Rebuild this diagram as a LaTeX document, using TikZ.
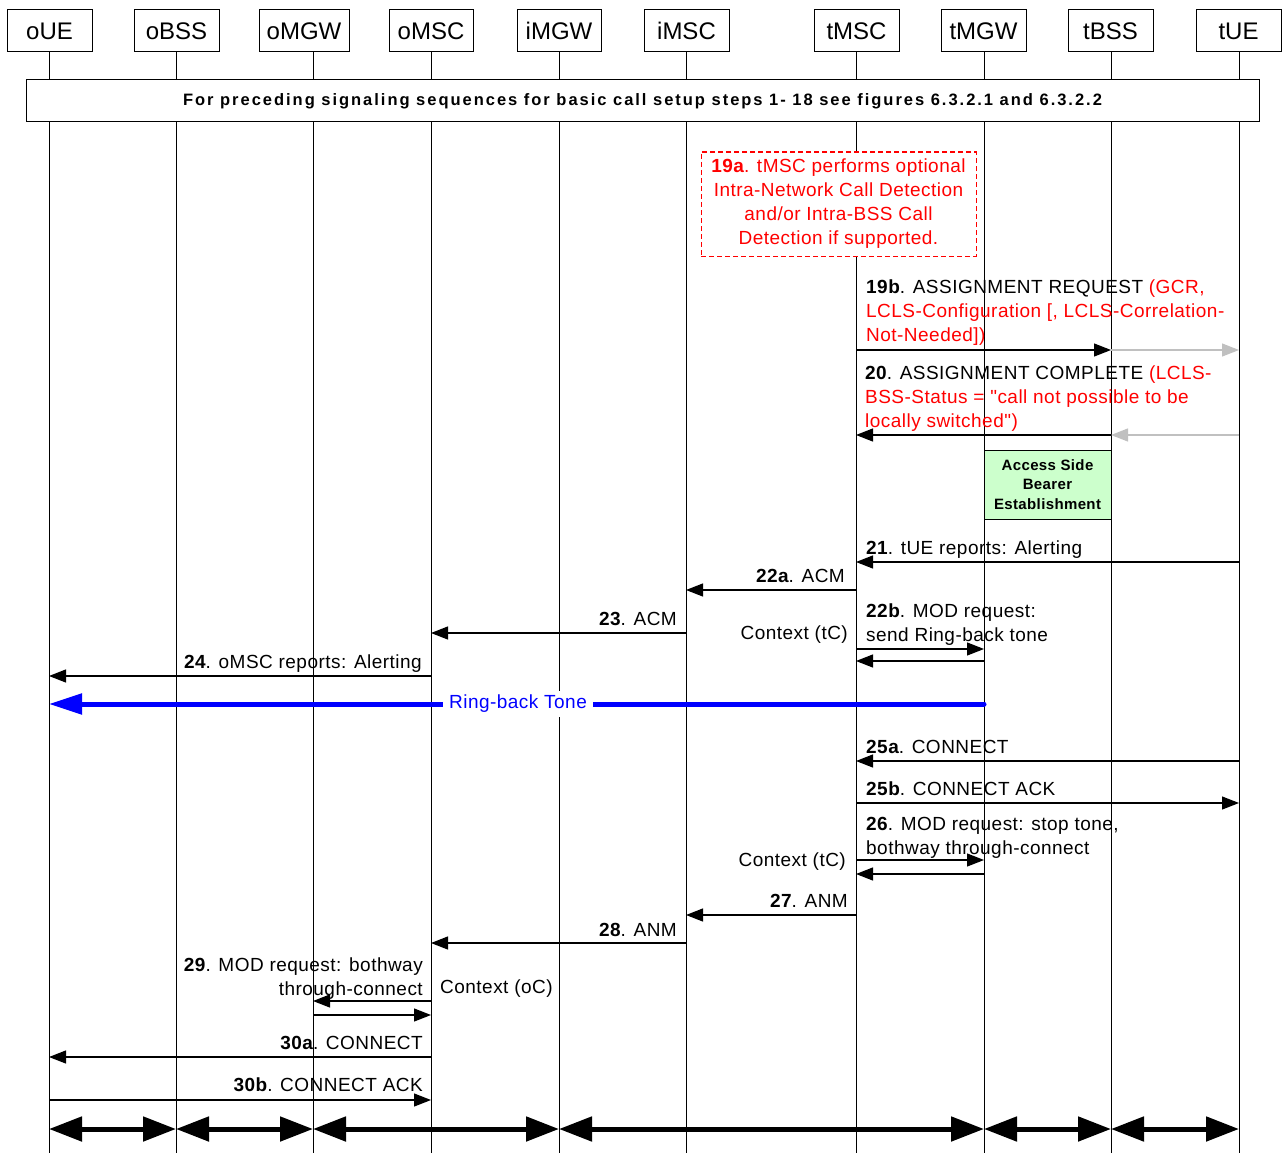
\documentclass[tikz,border=0pt]{standalone}
\usepackage{fontspec}
\setmainfont{Liberation Sans}[Ligatures=TeXOff]
\newfontfamily\lsfont{Liberation Sans}[LetterSpace=2.5,Ligatures=TeXOff]
\newfontfamily\banfont{Liberation Sans}[LetterSpace=12,Ligatures=TeXOff]
\usetikzlibrary{arrows.meta}
\definecolor{lgreen}{HTML}{CCFFCC}
\definecolor{rred}{HTML}{FF0000}
\definecolor{rblue}{HTML}{0000FF}
\definecolor{lgray}{HTML}{C0C0C0}
\begin{document}
\begin{tikzpicture}[x=1pt,y=-1pt,
  head/.style={draw, line width=1pt, minimum height=42pt, inner sep=0pt, font=\fontsize{24}{28}\selectfont},
  life/.style={line width=1pt},
  msg/.style={line width=1.2pt, -{Triangle[length=17pt,width=13pt]}},
  gmsg/.style={msg, draw=lgray, -{Triangle[length=17pt,width=13pt,fill=lgray]}},
  lbl/.style={font=\lsfont\fontsize{19}{24}\selectfont, inner sep=0pt},
  lw/.style={lbl, anchor=base west},
  le/.style={lbl, anchor=base east},
  rl/.style={lbl, anchor=base west, text=rred},
  bigarr/.style={line width=5pt, {Triangle[length=33pt,width=24pt]}-{Triangle[length=33pt,width=24pt]}},
]
\useasboundingbox (0,0) rectangle (1282,1153);
% lifelines
\foreach \n/\x in {oUE/49, oBSS/176, oMGW/313, oMSC/431, iMGW/559, iMSC/686, tMSC/856, tMGW/984, tBSS/1111, tUE/1239} {
  \coordinate (\n) at (\x,52);
  \coordinate (\n-end) at (\x,1153);
  \draw[life] (\n) -- (\n-end);
}
% headers
\node[head, minimum width=85pt] (h-oUE) at (49.5,31) {oUE};
\node[head, minimum width=85pt] (h-oBSS) at (176.5,31) {oBSS};
\node[head, minimum width=90pt] (h-oMGW) at (304,31) {oMGW};
\node[head, minimum width=84pt] (h-oMSC) at (431,31) {oMSC};
\node[head, minimum width=84pt] (h-iMGW) at (559,31) {iMGW};
\node[head, minimum width=85pt] (h-iMSC) at (686.5,31) {iMSC};
\node[head, minimum width=85pt] (h-tMSC) at (856.5,31) {tMSC};
\node[head, minimum width=85pt] (h-tMGW) at (983.5,31) {tMGW};
\node[head, minimum width=85pt] (h-tBSS) at (1110.5,31) {tBSS};
\node[head, minimum width=85pt] (h-tUE) at (1238.5,31) {tUE};
% banner
\node[draw, fill=white, line width=1pt, minimum width=1233pt, minimum height=42pt, inner sep=0pt,
  font=\banfont\fontsize{16.5}{20}\selectfont\bfseries] (banner) at (642.5,101)
  {For preceding signaling sequences for basic call setup steps 1- 18 see figures 6.3.2.1 and 6.3.2.2};
% 19a
\node[draw=rred, dash pattern=on 5pt off 3pt, fill=white, line width=1pt, minimum width=275pt, minimum height=104pt,
  inner sep=0pt, align=center, text=rred, font=\lsfont\fontsize{19}{24}\selectfont] (n19a) at (838.5,204)
  {\textbf{19a}. tMSC performs optional\\Intra-Network Call Detection\\and/or Intra-BSS Call\\Detection if supported.};
% 19b
\node[lw] (l19b1) at (866,293) {\textbf{19b}. ASSIGNMENT REQUEST \textcolor{rred}{(GCR,}};
\node[rl] (l19b2) at (866,317) {LCLS-Configuration [, LCLS-Correlation-};
\node[rl] (l19b3) at (866,341) {Not-Needed])};
\draw[msg] (tMSC |- 0,350) -- (tBSS |- 0,350);
\draw[gmsg] (tBSS |- 0,350) -- (tUE |- 0,350);
% 20
\node[lw] (l20a) at (865,379) {\textbf{20}. ASSIGNMENT COMPLETE \textcolor{rred}{(LCLS-}};
\node[rl] (l20b) at (865,403) {BSS-Status = "call not possible to be};
\node[rl] (l20c) at (865,427) {locally switched")};
\draw[msg] (tBSS |- 0,435) -- (tMSC |- 0,435);
\draw[gmsg] (tUE |- 0,435) -- (tBSS |- 0,435);
% access side bearer
\node[draw, fill=lgreen, line width=1pt, minimum width=127pt, minimum height=69pt, inner sep=0pt, align=center,
  font=\lsfont\fontsize{15}{19.5}\selectfont\bfseries] (asb) at (1047.5,484.5) {Access Side\\Bearer\\Establishment};
% 21
\node[lw] (l21) at (866,554) {\textbf{21}. tUE reports: Alerting};
\draw[msg] (tUE |- 0,562) -- (tMSC |- 0,562);
% 22a
\node[le] (l22a) at (845,582) {\textbf{22a}. ACM};
\draw[msg] (tMSC |- 0,590) -- (iMSC |- 0,590);
% 23
\node[le] (l23) at (677,625) {\textbf{23}. ACM};
\draw[msg] (iMSC |- 0,633) -- (oMSC |- 0,633);
% 22b
\node[lw] (l22b1) at (866,617) {\textbf{22b}. MOD request:};
\node[lw] (l22b2) at (866,641) {send Ring-back tone};
\node[le] (ctc1) at (848,639) {Context (tC)};
\draw[msg] (tMSC |- 0,649) -- (tMGW |- 0,649);
\draw[msg] (tMGW |- 0,661) -- (tMSC |- 0,661);
% 24
\node[le] (l24) at (422,668) {\textbf{24}. oMSC reports: Alerting};
\draw[msg] (oMSC |- 0,676) -- (oUE |- 0,676);
% ring-back tone
\draw[rblue, line width=5pt, line cap=round, -{Triangle[length=33pt,width=20pt]}] (tMGW |- 0,704) -- (oUE |- 0,704);
\node[lbl, fill=white, text=rblue, inner xsep=6pt, inner ysep=4pt] (rbt) at (518,704) {Ring-back Tone};
% 25a
\node[lw] (l25a) at (866,753) {\textbf{25a}. CONNECT};
\draw[msg] (tUE |- 0,761) -- (tMSC |- 0,761);
% 25b
\node[lw] (l25b) at (866,795) {\textbf{25b}. CONNECT ACK};
\draw[msg] (tMSC |- 0,803) -- (tUE |- 0,803);
% 26
\node[lw] (l26a) at (866,830) {\textbf{26}. MOD request: stop tone,};
\node[lw] (l26b) at (866,854) {bothway through-connect};
\node[le] (ctc2) at (846,866) {Context (tC)};
\draw[msg] (tMSC |- 0,860) -- (tMGW |- 0,860);
\draw[msg] (tMGW |- 0,874) -- (tMSC |- 0,874);
% 27
\node[le] (l27) at (848,907) {\textbf{27}. ANM};
\draw[msg] (tMSC |- 0,915) -- (iMSC |- 0,915);
% 28
\node[le] (l28) at (677,936) {\textbf{28}. ANM};
\draw[msg] (iMSC |- 0,943) -- (oMSC |- 0,943);
% 29
\node[le] (l29a) at (423,971) {\textbf{29}. MOD request: bothway};
\node[le] (l29b) at (423,995) {through-connect};
\node[lw] (coc) at (440,993) {Context (oC)};
\draw[msg] (oMSC |- 0,1001) -- (oMGW |- 0,1001);
\draw[msg] (oMGW |- 0,1015) -- (oMSC |- 0,1015);
% 30a
\node[le] (l30a) at (423,1049) {\textbf{30a}. CONNECT};
\draw[msg] (oMSC |- 0,1057) -- (oUE |- 0,1057);
% 30b
\node[le] (l30b) at (423,1091) {\textbf{30b}. CONNECT ACK};
\draw[msg] (oUE |- 0,1100) -- (oMSC |- 0,1100);
% bearer arrows
\draw[bigarr] (oUE |- 0,1129) -- (oBSS |- 0,1129);
\draw[bigarr] (oBSS |- 0,1129) -- (oMGW |- 0,1129);
\draw[bigarr] (oMGW |- 0,1129) -- (iMGW |- 0,1129);
\draw[bigarr] (iMGW |- 0,1129) -- (tMGW |- 0,1129);
\draw[bigarr] (tMGW |- 0,1129) -- (tBSS |- 0,1129);
\draw[bigarr] (tBSS |- 0,1129) -- (tUE |- 0,1129);
\end{tikzpicture}
\end{document}
